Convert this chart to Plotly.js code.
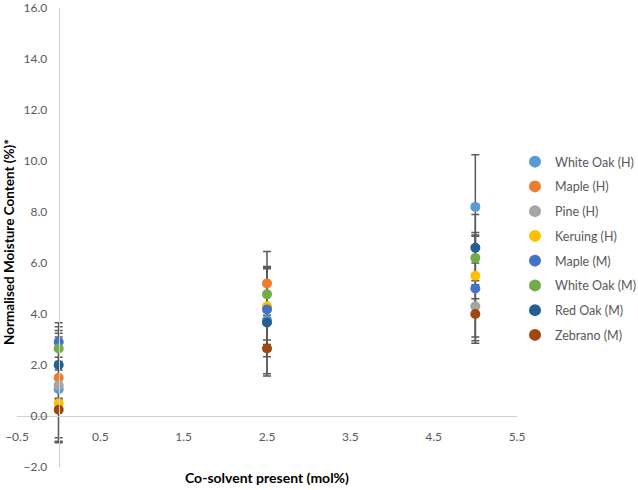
<!DOCTYPE html>
<html>
<head>
<meta charset="utf-8">
<script src="https://cdn.plot.ly/plotly-3.0.1.min.js"></script>
<style>html,body{margin:0;padding:0;background:#fff;}#chart{width:638px;height:490px;}</style>
</head>
<body>
<div id="chart"></div>
<script>
// Co-solvent levels (mol%)
const xValues = [0, 2.5, 5];

const seriesNames = ["White Oak (H)", "Maple (H)", "Pine (H)", "Keruing (H)",
                     "Maple (M)", "White Oak (M)", "Red Oak (M)", "Zebrano (M)"];
const seriesColors = ["#5B9BD5", "#ED7D31", "#A5A5A5", "#FFC000",
                      "#4472C4", "#70AD47", "#255E91", "#9E480E"];

// Normalised moisture content (%)
const whiteOakH = [1.05, 3.76, 8.2];
const mapleH    = [1.5, 5.2, null];
const pineH     = [1.2, null, 4.3];
const keruingH  = [0.5, 4.3, 5.5];
const mapleM    = [2.9, 4.18, 5.0];
const whiteOakM = [2.65, 4.77, 6.2];
const redOakM   = [2.0, 3.67, 6.6];
const zebranoM  = [0.25, 2.65, 4.0];

// Error bar half-widths
const whiteOakHErr = [2.05, 2.1, 2.05];
const mapleHErr    = [0.8, 1.25, null];
const pineHErr     = [2.05, null, 0.3];
const keruingHErr  = [1.5, 1.5, 2.4];
const mapleMErr    = [0.76, 1.64, 2.05];
const whiteOakMErr = [0.85, 1.05, 0.9];
const redOakMErr   = [1.35, 2.1, 0.6];
const zebranoMErr  = [1.3, 0.33, 1.15];

const seriesValues = [whiteOakH, mapleH, pineH, keruingH, mapleM, whiteOakM, redOakM, zebranoM];
const seriesErrors = [whiteOakHErr, mapleHErr, pineHErr, keruingHErr, mapleMErr, whiteOakMErr, redOakMErr, zebranoMErr];

const W = 638, H = 490;
const font = "Lato, 'Open Sans', sans-serif";
const fx = px => px / W;
const fy = py => 1 - py / H;

// error bars first (under markers), then the markers
const errTraces = seriesNames.map((name, i) => ({
  type: "scatter", mode: "markers", name: name, legendgroup: "g" + i,
  showlegend: false,
  x: xValues, y: seriesValues[i],
  marker: {color: seriesColors[i], size: 10, opacity: 0},
  error_y: {type: "data", array: seriesErrors[i], visible: true,
            color: "#5a5a5a", thickness: 1.5, width: 4},
  hoverinfo: "skip"
}));
const markerTraces = seriesNames.map((name, i) => ({
  type: "scatter", mode: "markers", name: name, legendgroup: "g" + i,
  x: xValues, y: seriesValues[i],
  marker: {color: seriesColors[i], size: 10},
  hoverinfo: "skip"
}));

const layout = {
  width: W, height: H,
  margin: {l: 0, r: 0, t: 0, b: 0, autoexpand: false},
  paper_bgcolor: "#ffffff",
  plot_bgcolor: "rgba(0,0,0,0)",
  font: {family: font, size: 12, color: "#595959"},
  showlegend: true,
  xaxis: {
    domain: [fx(17), fx(517)], range: [-0.5, 5.5],
    anchor: "free", position: fy(416),
    tick0: -0.5, dtick: 1, tickformat: ".1f",
    showgrid: false, zeroline: false,
    showline: true, linecolor: "#D0D0D0", linewidth: 1,
    ticks: "", ticklabelstandoff: 10,
    tickfont: {family: font, size: 12, color: "#595959"}
  },
  yaxis: {
    domain: [fy(467), fy(8)], range: [-2, 16],
    anchor: "free", position: fx(58.7),
    tick0: 0, dtick: 2, tickformat: ".1f",
    showgrid: false, zeroline: false,
    showline: true, linecolor: "#D0D0D0", linewidth: 1,
    ticks: "", ticklabelstandoff: 9,
    tickfont: {family: font, size: 12, color: "#595959"}
  },
  legend: {
    x: fx(515), xanchor: "left", y: fy(147), yanchor: "top",
    font: {family: font, size: 12.5, color: "#595959"},
    tracegroupgap: 5.5, itemsizing: "constant",
    bgcolor: "rgba(0,0,0,0)"
  },
  annotations: [
    {text: "<b>Normalised Moisture Content (%)*</b>", textangle: -90,
     xref: "paper", yref: "paper", x: fx(9), y: fy(242),
     xanchor: "center", yanchor: "middle", showarrow: false,
     font: {family: font, size: 13.5, color: "#000000"}},
    {text: "<b>Co-solvent present (mol%)</b>",
     xref: "paper", yref: "paper", x: fx(267), y: fy(477),
     xanchor: "center", yanchor: "middle", showarrow: false,
     font: {family: font, size: 14, color: "#000000"}}
  ]
};

Plotly.newPlot("chart", errTraces.concat(markerTraces), layout,
               {displayModeBar: false, staticPlot: true});
</script>
</body>
</html>
